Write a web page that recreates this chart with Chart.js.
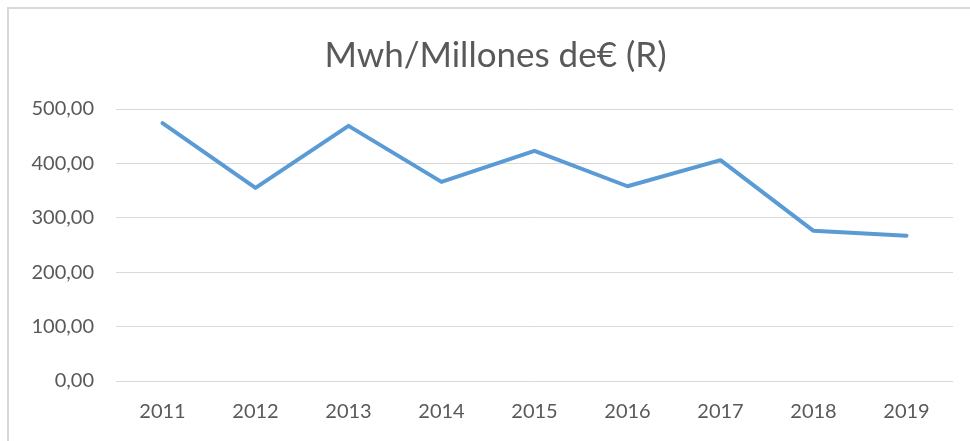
<!DOCTYPE html>
<html>
<head>
<meta charset="utf-8">
<script src="https://cdn.jsdelivr.net/npm/chart.js@4"></script>
<style>
  html, body { margin: 0; padding: 0; background: #fff; overflow: hidden; }
  #wrap { position: relative; width: 970px; height: 441px; }
  #frame {
    position: absolute; left: 7px; top: 7px; width: 1000px; height: 500px;
    border: 2px solid #d9d9d9; box-sizing: border-box; pointer-events: none;
  }
  canvas { position: absolute; left: 0; top: 0; }
</style>
</head>
<body>
<div id="wrap">
  <canvas id="chart" width="970" height="441"></canvas>
  <div id="frame"></div>
</div>
<script>
const years = ['2011', '2012', '2013', '2014', '2015', '2016', '2017', '2018', '2019'];
const mwhPerMillion = [474, 355, 469, 366, 423, 358, 406, 276, 267];
const yTicks = [0, 100, 200, 300, 400, 500];

const textColor = '#595959';
const fontFamily = 'Lato, "Open Sans", sans-serif';

// nudge the title box so it is centred like in the original frame
const shiftTitle = {
    id: 'shiftTitle',
    afterLayout(chart) {
        const t = chart.titleBlock;
        if (t) {
            t.left = 38;
            t.width = t.right - t.left;
        }
    }
};

const ctx = document.getElementById('chart').getContext('2d');
const chart = new Chart(ctx, {
    type: 'line',
    data: {
        labels: years,
        datasets: [{
            label: 'Mwh/Millones de€ (R)',
            data: mwhPerMillion,
            borderColor: '#5b9bd5',
            borderWidth: 4,
            borderCapStyle: 'round',
            borderJoinStyle: 'round',
            pointRadius: 0,
            tension: 0,
            fill: false
        }]
    },
    options: {
        responsive: false,
        animation: false,
        layout: { padding: { left: 0, right: 17, top: 0, bottom: 0 } },
        plugins: {
            legend: { display: false },
            tooltip: { enabled: false },
            title: {
                display: true,
                text: 'Mwh/Millones de€ (R)',
                color: textColor,
                font: { family: fontFamily, size: 35, weight: 'normal' },
                padding: { top: 35, bottom: 32 }
            }
        },
        scales: {
            x: {
                offset: true,
                grid: { display: false, drawTicks: false },
                border: { display: false },
                ticks: {
                    color: textColor,
                    font: { family: fontFamily, size: 20 },
                    padding: 19,
                    maxRotation: 0
                },
                afterFit: scale => { scale.height = 60; }
            },
            y: {
                min: 0,
                max: 500,
                afterBuildTicks: scale => { scale.ticks = yTicks.map(v => ({ value: v })); },
                grid: { color: '#d9d9d9', lineWidth: 1, drawTicks: false },
                border: { display: false },
                ticks: {
                    color: textColor,
                    font: { family: fontFamily, size: 20 },
                    padding: 22,
                    callback: v => v.toFixed(2).replace('.', ',')
                },
                afterFit: scale => { scale.width = 116; }
            }
        }
    },
    plugins: [shiftTitle]
});
</script>
</body>
</html>
